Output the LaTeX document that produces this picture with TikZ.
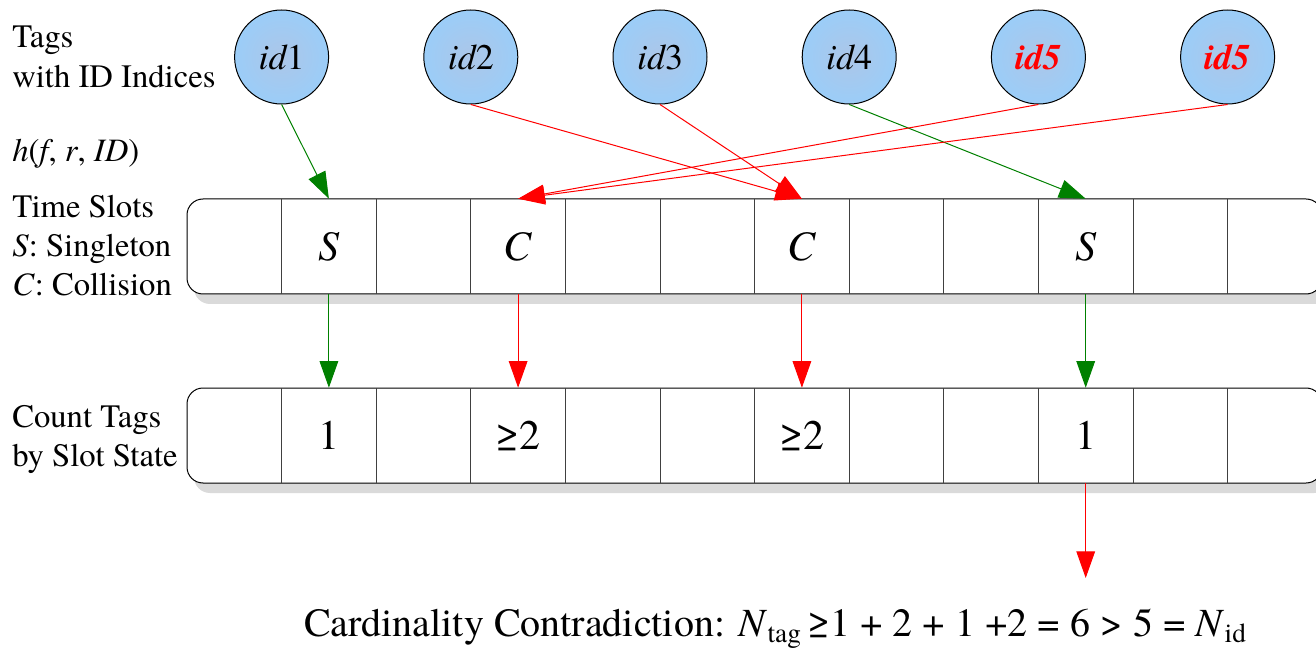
\documentclass[tikz,border=0pt]{standalone}
\usepackage{fontspec}
\IfFontExistsTF{texgyretermes-regular.otf}
  {\newfontfamily\tnr{texgyretermes}[Extension=.otf,UprightFont=*-regular,ItalicFont=*-italic,BoldFont=*-bold,BoldItalicFont=*-bolditalic]}
  {\newfontfamily\tnr{Liberation Serif}}
\newfontfamily\symf{DejaVu Serif}
\newcommand{\mygeq}{{\iffontchar\font"2265 \char"2265 \else{\symf\char"2265}\fi}}
\usetikzlibrary{arrows.meta}
\definecolor{arrgreen}{RGB}{0,128,0}
\definecolor{arrred}{RGB}{255,0,0}
\definecolor{ballin}{RGB}{172,198,232}
\definecolor{ballout}{RGB}{155,205,248}
\definecolor{shadowgray}{RGB}{218,218,218}
\begin{document}
\begin{tikzpicture}[x=0.75pt,y=-0.75pt,font=\tnr,
  tagball/.style={circle,draw=black,line width=0.75pt,minimum size=70.5pt,inner sep=0pt,
    inner color=ballin,outer color=ballout,font=\tnr\fontsize{27}{30}\selectfont\itshape},
  slotcell/.style={rectangle,minimum width=70.95pt,minimum height=71.25pt,inner sep=0pt,
    font=\tnr\fontsize{31.5}{34}\selectfont},
  lbl/.style={anchor=base west,inner sep=0pt,font=\tnr\fontsize{24.5}{29}\selectfont},
  bar/.style={draw=black,line width=0.75pt,fill=white,rounded corners=12pt},
  barshadow/.style={fill=shadowgray,rounded corners=12pt},
  divider/.style={draw=black!75,line width=0.75pt},
  garr/.style={draw=arrgreen,line width=0.75pt,-{Triangle[length=20pt,width=14pt]},arrgreen},
  rarr/.style={draw=arrred,line width=0.75pt,-{Triangle[length=20pt,width=14pt]},arrred}
]
\useasboundingbox (0,0) rectangle (1316,648);

% left labels
\node[lbl] (lt1) at (12,48) {Tags};
\node[lbl] (lt2) at (12,88) {with ID Indices};
\node[lbl] (lh) at (12,162) {\textit{h}(\textit{f}, \textit{r}, \textit{ID})};
\node[lbl] (ls1) at (12,218) {Time Slots};
\node[lbl] (ls2) at (12,257) {\textit{S}: Singleton};
\node[lbl] (ls3) at (12,296) {\textit{C}: Collision};
\node[lbl] (lc1) at (12,427) {Count Tags};
\node[lbl] (lc2) at (12,466) {by Slot State};

% bars
\fill[barshadow] (194,208) rectangle (1330,304);
\draw[bar] (187,199) rectangle (1322,294);
\foreach \k in {1,...,11} \draw[divider] ({187+94.6*\k},199) -- ++(0,95);
\fill[barshadow] (194,397) rectangle (1330,493);
\draw[bar] (187,388) rectangle (1322,483);
\foreach \k in {1,...,11} \draw[divider] ({187+94.6*\k},388) -- ++(0,95);

% slot contents
\node[slotcell] (a1) at ({187+94.6*1.5},246.5) {\textit{S}};
\node[slotcell] (a3) at ({187+94.6*3.5},246.5) {\textit{C}};
\node[slotcell] (a6) at ({187+94.6*6.5},246.5) {\textit{C}};
\node[slotcell] (a9) at ({187+94.6*9.5},246.5) {\textit{S}};
\node[slotcell] (b1) at ({187+94.6*1.5},435.5) {1};
\node[slotcell] (b3) at ({187+94.6*3.5},435.5) {\mygeq 2};
\node[slotcell] (b6) at ({187+94.6*6.5},435.5) {\mygeq 2};
\node[slotcell] (b9) at ({187+94.6*9.5},435.5) {1};

% tags
\node[tagball] (t1) at ({187+94.6*1},57) {id\upshape 1};
\node[tagball] (t2) at ({187+94.6*3},57) {id\upshape 2};
\node[tagball] (t3) at ({187+94.6*5},57) {id\upshape 3};
\node[tagball] (t4) at ({187+94.6*7},57) {id\upshape 4};
\node[tagball] (t5) at ({187+94.6*9},57) {\color{arrred}\bfseries id5};
\node[tagball] (t6) at ({187+94.6*11},57) {\color{arrred}\bfseries id5};

% hash arrows
\draw[garr] (t1.south) -- (a1.north);
\draw[rarr] (t2.south) -- (a6.north);
\draw[rarr] (t3.south) -- (a6.north);
\draw[garr] (t4.south) -- (a9.north);
\draw[rarr] (t5.south) -- (a3.north);
\draw[rarr] (t6.south) -- (a3.north);

% count arrows
\draw[garr] (a1.south) -- (b1.north);
\draw[rarr] (a3.south) -- (b3.north);
\draw[rarr] (a6.south) -- (b6.north);
\draw[garr] (a9.south) -- (b9.north);
\coordinate (fin) at ({187+94.6*9.5},578);
\draw[rarr] (b9.south) -- (fin);

% conclusion
\node[anchor=base,inner sep=0pt,font=\tnr\fontsize{30}{34}\selectfont] (concl) at (775,636)
  {Cardinality Contradiction: \textit{N}\raisebox{-0.15em}{\fontsize{20.5}{21}\selectfont tag}\,\mygeq 1 + 2 + 1 +2 = 6 > 5 = \textit{N}\raisebox{-0.15em}{\fontsize{20.5}{21}\selectfont id}};
\end{tikzpicture}
\end{document}
